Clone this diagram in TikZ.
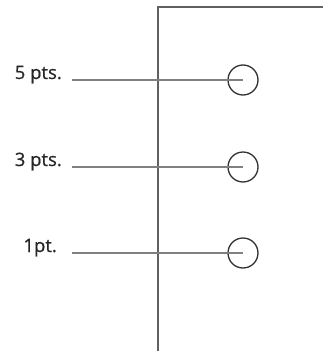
\documentclass[tikz,border=0pt]{standalone}
\usepackage{fontspec}
\setmainfont{Open Sans}
\newfontfamily\lblfont{Open Sans}[FakeBold=0.6]
\usetikzlibrary{positioning}

\begin{document}
\begin{tikzpicture}[
    x=1pt, y=-1pt,
    wall/.style={draw=black!62, line width=2pt},
    lead/.style={draw=black!50, line width=2pt},
    ring/.style={circle, draw=black!80, line width=1.3pt, minimum size=30pt, inner sep=0pt},
    lbl/.style={anchor=base east, inner sep=0pt, font=\lblfont\fontsize{18.5}{22}\selectfont, text=black!85},
]
\useasboundingbox (0,0) rectangle (322,351);

% Frame
\coordinate (top) at (158,7);
\coordinate (bot) at (158,352);
\coordinate (corner) at (323,7);
\draw[wall] (bot) -- (top) -- (corner);

% Targets
\node[ring] (c5) at (243,80) {};
\node[ring] (c3) at (243,167) {};
\node[ring] (c1) at (243,253) {};

% Labels
\node[lbl] (l5) at (62,79) {5 pts.};
\node[lbl] (l3) at (62,166) {3 pts.};
\node[lbl] (l1) at (57,252) {1pt.};

% Leads
\draw[lead] ([xshift=10pt, yshift=-1pt]l5.base east) -- (c5.center);
\draw[lead] ([xshift=10pt, yshift=-1pt]l3.base east) -- (c3.center);
\draw[lead] ([xshift=15pt, yshift=-1pt]l1.base east) -- (c1.center);

\end{tikzpicture}
\end{document}
